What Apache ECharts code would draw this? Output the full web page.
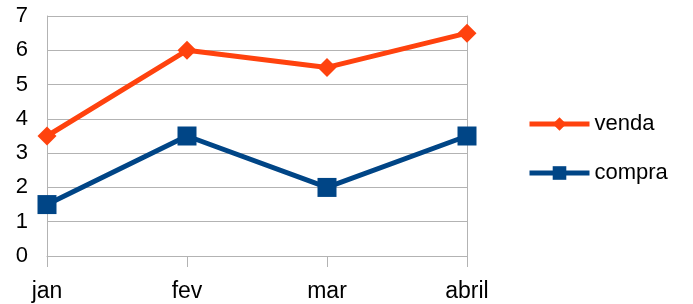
<!DOCTYPE html>
<html>
<head>
<meta charset="utf-8">
<script src="https://cdn.jsdelivr.net/npm/echarts@6/dist/echarts.min.js"></script>
<style>
  html, body { margin: 0; padding: 0; background: #fff; }
  #chart { width: 693px; height: 304px; }
</style>
</head>
<body>
<div id="chart"></div>
<script>
const months = ['jan', 'fev', 'mar', 'abril'];
const venda = [3.5, 6, 5.5, 6.5];
const compra = [1.5, 3.5, 2, 3.5];

const chart = echarts.init(document.getElementById('chart'));
const font = 'Liberation Sans';

chart.setOption({
  backgroundColor: '#fff',
  animation: false,
  textStyle: { fontFamily: font },
  legend: {
    orient: 'vertical',
    left: 522,
    top: 108,
    itemWidth: 60,
    itemHeight: 17,
    itemGap: 27,
    lineStyle: { width: 5 },
    textStyle: { fontSize: 22, color: '#000', fontFamily: font },
    data: ['venda', 'compra']
  },
  grid: { left: 47, right: 226, top: 16, bottom: 48 },
  xAxis: {
    type: 'category',
    data: months,
    boundaryGap: false,
    axisLine: { lineStyle: { color: '#b3b3b3' } },
    axisTick: { show: true, length: 11, lineStyle: { color: '#b3b3b3' } },
    axisLabel: { fontSize: 23, color: '#000', margin: 24, fontFamily: font },
    splitLine: { show: false }
  },
  yAxis: [
    {
      type: 'value',
      min: 0,
      max: 7,
      interval: 1,
      axisLine: { show: true, lineStyle: { color: '#b3b3b3' } },
      axisTick: { show: false },
      axisLabel: { fontSize: 22, color: '#000', margin: 19, fontFamily: font },
      splitLine: { lineStyle: { color: '#b3b3b3' } }
    },
    {
      type: 'value',
      position: 'right',
      min: 0,
      max: 7,
      interval: 1,
      axisLine: { show: true, lineStyle: { color: '#b3b3b3' } },
      axisTick: { show: false },
      axisLabel: { show: false },
      splitLine: { show: false }
    }
  ],
  series: [
    {
      name: 'venda',
      type: 'line',
      data: venda,
      symbol: 'diamond',
      symbolSize: 19,
      lineStyle: { color: '#ff420e', width: 5 },
      itemStyle: { color: '#ff420e' }
    },
    {
      name: 'compra',
      type: 'line',
      data: compra,
      symbol: 'rect',
      symbolSize: 19,
      lineStyle: { color: '#004586', width: 5 },
      itemStyle: { color: '#004586' }
    }
  ]
});
</script>
</body>
</html>
